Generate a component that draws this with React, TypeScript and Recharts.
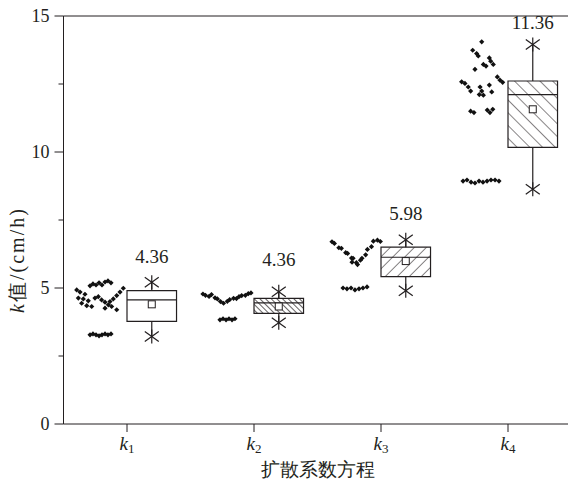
import {
  ComposedChart,
  Scatter,
  XAxis,
  YAxis,
  ReferenceArea,
  ReferenceLine,
  ReferenceDot,
} from 'recharts';

const FONT = "'Liberation Serif', 'Times New Roman', 'DejaVu Serif', serif";
const INK = '#231f20';
const textStyle = { fontFamily: FONT };

// categories k1..k4 (subscripts)
const categories = ['1', '2', '3', '4'];
const xTicks = [1, 2, 3, 4];
const yTicks = [0, 2.5, 5, 7.5, 10, 12.5, 15];

// box statistics
const boxMin = [3.22, 3.72, 4.9, 8.63];
const boxQ1 = [3.77, 4.07, 5.42, 10.17];
const boxMedian = [4.56, 4.45, 6.13, 12.11];
const boxQ3 = [4.9, 4.62, 6.5, 12.61];
const boxMax = [5.21, 4.86, 6.77, 13.95];
const boxMean = [4.4, 4.32, 5.99, 11.57];
const meanLabels = ['4.36', '4.36', '5.98', '11.36'];
const labelAt = [6.15, 6.05, 7.75, 14.75];
const boxFills = ['#ffffff', 'url(#hatchK2)', 'url(#hatchK3)', 'url(#hatchK4)'];

// raw points [x, y] drawn left of each box
const k1Points: [number, number][] = [
  [0.709, 5.08], [0.732, 5.15], [0.756, 5.11], [0.78, 5.19], [0.803, 5.11], [0.827, 5.22], [0.85, 5.26], [0.874, 5.19],
  [0.604, 4.93], [0.63, 4.85], [0.669, 4.77], [0.617, 4.63], [0.656, 4.6], [0.695, 4.53], [0.643, 4.44], [0.683, 4.35],
  [0.722, 4.32], [0.748, 4.63], [0.774, 4.68], [0.8, 4.56], [0.827, 4.48], [0.853, 4.38], [0.866, 4.5], [0.892, 4.6],
  [0.919, 4.72], [0.945, 4.85], [0.971, 4.99], [0.919, 4.2], [0.827, 4.26], [0.879, 4.32],
  [0.709, 3.28], [0.732, 3.31], [0.756, 3.28], [0.78, 3.24], [0.803, 3.28], [0.827, 3.31], [0.85, 3.28], [0.874, 3.31],
];

const k2Points: [number, number][] = [
  [1.598, 4.78], [1.618, 4.73], [1.646, 4.69], [1.665, 4.76], [1.693, 4.64], [1.712, 4.6], [1.736, 4.5], [1.76, 4.44],
  [1.79, 4.51], [1.808, 4.57], [1.839, 4.62], [1.862, 4.61], [1.882, 4.68], [1.903, 4.72], [1.932, 4.73], [1.955, 4.79],
  [1.976, 4.82],
  [1.732, 3.83], [1.756, 3.87], [1.78, 3.83], [1.803, 3.87], [1.827, 3.83], [1.85, 3.87],
];

const k3Points: [number, number][] = [
  [2.614, 6.7], [2.633, 6.64], [2.668, 6.48], [2.688, 6.46], [2.722, 6.3], [2.737, 6.27], [2.768, 6.1], [2.78, 6.09],
  [2.806, 5.93], [2.815, 5.86], [2.772, 5.95], [2.838, 6.02], [2.85, 6.09], [2.879, 6.22], [2.893, 6.42], [2.925, 6.52],
  [2.94, 6.72], [2.972, 6.76], [2.995, 6.71],
  [2.701, 5.0], [2.732, 4.97], [2.764, 5.0], [2.795, 4.93], [2.827, 4.97], [2.858, 5.0], [2.89, 5.04],
];

const k4Points: [number, number][] = [
  [3.793, 14.05], [3.722, 13.74], [3.753, 13.62], [3.766, 13.53], [3.853, 13.46], [3.864, 13.34], [3.806, 13.22],
  [3.827, 13.16], [3.884, 13.22], [3.74, 13.04], [3.635, 12.58], [3.661, 12.52], [3.687, 12.39], [3.706, 12.24],
  [3.78, 12.39], [3.793, 12.24], [3.806, 12.09], [3.774, 12.11], [3.853, 12.46], [3.872, 12.21], [3.916, 12.76],
  [3.937, 12.64], [3.958, 12.56], [3.706, 11.5], [3.732, 11.45], [3.837, 11.54], [3.858, 11.45], [3.88, 11.57],
  [3.646, 8.93], [3.677, 8.97], [3.709, 8.89], [3.74, 8.86], [3.772, 8.93], [3.803, 8.89], [3.835, 8.93],
  [3.866, 8.97], [3.898, 8.97], [3.929, 8.93],
];

const allPoints = [...k1Points, ...k2Points, ...k3Points, ...k4Points].map(([x, y]) => ({ x, y }));

const BOX_W = 0.39;

const Diamond = ({ cx, cy }: any) => (
  <polygon
    points={`${cx},${cy - 2.6} ${cx + 2.6},${cy} ${cx},${cy + 2.6} ${cx - 2.6},${cy}`}
    fill="#111"
  />
);

const Star = ({ cx, cy }: any) => (
  <g stroke={INK} strokeWidth={1.2}>
    <line x1={cx} y1={cy - 7} x2={cx} y2={cy + 7} />
    <line x1={cx - 7} y1={cy - 5} x2={cx + 7} y2={cy + 5} />
    <line x1={cx - 7} y1={cy + 5} x2={cx + 7} y2={cy - 5} />
  </g>
);

const MeanSquare = ({ cx, cy }: any) => (
  <rect x={cx - 3.5} y={cy - 3.5} width={7} height={7} fill="#fff" stroke={INK} strokeWidth={1} />
);

const ValueLabel = ({ viewBox, value }: any) => (
  <text
    x={viewBox.x + viewBox.width / 2}
    y={viewBox.y + viewBox.height / 2}
    dy="0.35em"
    textAnchor="middle"
    fontSize={19}
    fill={INK}
    style={textStyle}
  >
    {value}
  </text>
);

const YTick = ({ x, y, payload }: any) => {
  const major = payload.value % 5 === 0;
  return (
    <g>
      <line x1={x + (major ? 5 : 9)} x2={x + 14} y1={y} y2={y} stroke={INK} strokeWidth={1} />
      {major && (
        <text x={x} y={y} dy="0.35em" textAnchor="end" fontSize={18} fill={INK} style={textStyle}>
          {payload.value}
        </text>
      )}
    </g>
  );
};

const XTick = ({ x, y, payload }: any) => (
  <text x={x} y={y + 16} textAnchor="middle" fontSize={19} fill={INK} style={textStyle}>
    <tspan fontStyle="italic">k</tspan>
    <tspan fontSize={13} dy={3}>{categories[payload.value - 1]}</tspan>
  </text>
);

const YTitle = ({ viewBox }: any) => {
  const cx = viewBox.x + 17;
  const cy = viewBox.y + viewBox.height / 2 + 40;
  return (
    <text
      x={cx}
      y={cy}
      transform={`rotate(-90, ${cx}, ${cy})`}
      textAnchor="middle"
      dy="0.35em"
      fontSize={20}
      letterSpacing={2}
      fill={INK}
      style={textStyle}
    >
      <tspan fontStyle="italic">k</tspan>值/(cm/h)
    </text>
  );
};

const XTitle = ({ viewBox }: any) => (
  <text
    x={viewBox.x + viewBox.width / 2}
    y={viewBox.y + 52}
    textAnchor="middle"
    fontSize={19}
    fill={INK}
    style={textStyle}
  >
    扩散系数方程
  </text>
);

export default function App() {
  return (
    <div style={{ position: 'absolute', left: 0, top: 0, width: 568, height: 484, overflow: 'hidden', background: '#fff' }}>
      <svg width={0} height={0} style={{ position: 'absolute' }}>
        <defs>
          <pattern id="hatchK2" patternUnits="userSpaceOnUse" width={4} height={4} patternTransform="rotate(-45)">
            <line x1={0} y1={0} x2={0} y2={4} stroke={INK} strokeWidth={1.4} />
          </pattern>
          <pattern id="hatchK3" patternUnits="userSpaceOnUse" width={8.5} height={8.5} patternTransform="rotate(45)">
            <line x1={0} y1={0} x2={0} y2={8.5} stroke={INK} strokeWidth={1.1} />
          </pattern>
          <pattern id="hatchK4" patternUnits="userSpaceOnUse" width={9} height={9} patternTransform="rotate(-45)">
            <line x1={0} y1={0} x2={0} y2={9} stroke={INK} strokeWidth={1.1} />
          </pattern>
        </defs>
      </svg>
      <ComposedChart width={580} height={484} margin={{ top: 16, right: 8.5, bottom: 0, left: 0 }}>
        <XAxis
          type="number"
          dataKey="x"
          domain={[0.5, 4.5]}
          ticks={xTicks}
          allowDataOverflow
          height={60}
          stroke={INK}
          tickSize={8}
          tickMargin={2}
          tick={<XTick />}
          label={{ content: XTitle }}
        />
        <YAxis
          type="number"
          dataKey="y"
          domain={[0, 15]}
          ticks={yTicks}
          width={63.5}
          stroke={INK}
          tickLine={false}
          tickSize={9}
          tickMargin={5}
          tick={<YTick />}
          label={{ content: YTitle }}
        />
        <ReferenceLine y={15} stroke={INK} strokeWidth={1} />

        {xTicks.map((c, i) => (
          <ReferenceArea
            key={`box-${i}`}
            x1={c}
            x2={c + BOX_W}
            y1={boxQ1[i]}
            y2={boxQ3[i]}
            fill={boxFills[i]}
            fillOpacity={1}
            stroke={INK}
            strokeWidth={1.2}
          />
        ))}
        {xTicks.map((c, i) => (
          <ReferenceLine
            key={`med-${i}`}
            segment={[{ x: c, y: boxMedian[i] }, { x: c + BOX_W, y: boxMedian[i] }]}
            stroke={INK}
            strokeWidth={1.2}
          />
        ))}
        {xTicks.map((c, i) => (
          <ReferenceLine
            key={`wt-${i}`}
            segment={[{ x: c + BOX_W / 2, y: boxQ3[i] }, { x: c + BOX_W / 2, y: boxMax[i] }]}
            stroke={INK}
            strokeWidth={1.2}
          />
        ))}
        {xTicks.map((c, i) => (
          <ReferenceLine
            key={`wb-${i}`}
            segment={[{ x: c + BOX_W / 2, y: boxQ1[i] }, { x: c + BOX_W / 2, y: boxMin[i] }]}
            stroke={INK}
            strokeWidth={1.2}
          />
        ))}
        {xTicks.map((c, i) => (
          <ReferenceDot key={`max-${i}`} x={c + BOX_W / 2} y={boxMax[i]} r={7} shape={Star} />
        ))}
        {xTicks.map((c, i) => (
          <ReferenceDot key={`min-${i}`} x={c + BOX_W / 2} y={boxMin[i]} r={7} shape={Star} />
        ))}
        {xTicks.map((c, i) => (
          <ReferenceDot key={`mean-${i}`} x={c + BOX_W / 2} y={boxMean[i]} r={4} shape={MeanSquare} />
        ))}
        {xTicks.map((c, i) => (
          <ReferenceDot
            key={`lbl-${i}`}
            x={c + BOX_W / 2}
            y={labelAt[i]}
            r={0}
            fill="none"
            stroke="none"
            label={{ value: meanLabels[i], content: ValueLabel }}
          />
        ))}

        <Scatter data={allPoints} shape={<Diamond />} isAnimationActive={false} />
      </ComposedChart>
    </div>
  );
}
